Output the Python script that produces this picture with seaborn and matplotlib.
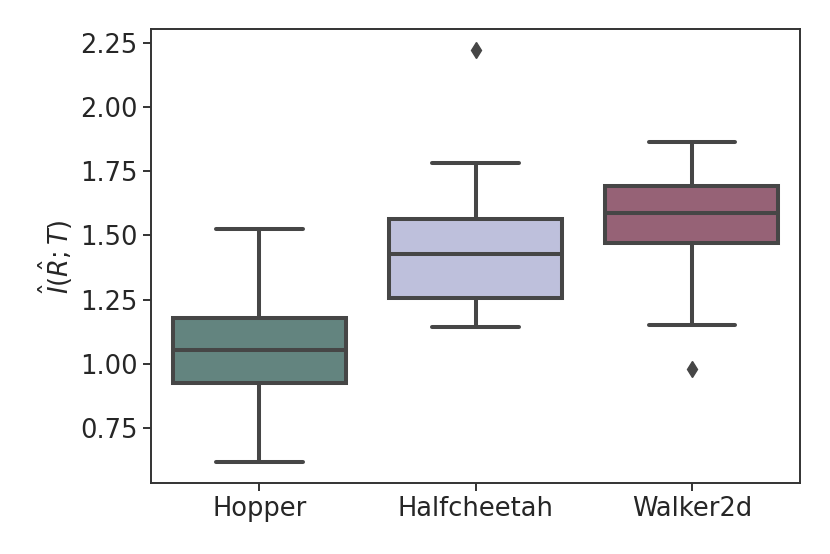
import numpy as np
import pandas as pd
import matplotlib
matplotlib.use("Agg")
import matplotlib.pyplot as plt
import seaborn as sns

# values (whisker ends, quartiles, median, fliers)
envs = ["Hopper", "Halfcheetah", "Walker2d"]
hopper = [0.615, 0.86, 0.923, 0.99, 1.053, 1.12, 1.180, 1.35, 1.525]
halfcheetah = [1.143, 1.20, 1.256, 1.34, 1.427, 1.50, 1.564, 1.782, 2.223]
walker2d = [0.979, 1.151, 1.470, 1.53, 1.587, 1.64, 1.692, 1.78, 1.864]
colors = ["#63847f", "#bec0dc", "#966276"]

df = pd.DataFrame({
    "env": np.repeat(envs, [len(hopper), len(halfcheetah), len(walker2d)]),
    "mi": hopper + halfcheetah + walker2d,
})

sns.set_style("ticks")
plt.rcParams["font.family"] = ["DejaVu Sans"]
plt.rcParams["font.size"] = 18.5

fig = plt.figure(figsize=(8.3, 5.54), dpi=100)
ax = fig.add_axes([0.182, 0.128, 0.782, 0.819])

sns.boxplot(data=df, x="env", y="mi", hue="env", palette=colors, saturation=1,
            order=envs, legend=False, linewidth=2.9, linecolor="#464646",
            width=0.8, whis=1.5,
            flierprops=dict(marker="d", markersize=8, markerfacecolor="#464646",
                            markeredgecolor="#464646"),
            ax=ax)

ax.set_xlabel("")
ax.set_ylabel(r"$\hat{I}(\hat{R};T)$", fontsize=18.5)
ax.set_yticks([0.75, 1.00, 1.25, 1.50, 1.75, 2.00, 2.25])
ax.set_yticklabels(["0.75", "1.00", "1.25", "1.50", "1.75", "2.00", "2.25"])
ax.tick_params(axis="both", labelsize=18.5, length=6, width=1.4, color="#333333")
for s in ax.spines.values():
    s.set_linewidth(1.4)
    s.set_color("#333333")

fig.savefig("out.png", dpi=100)
